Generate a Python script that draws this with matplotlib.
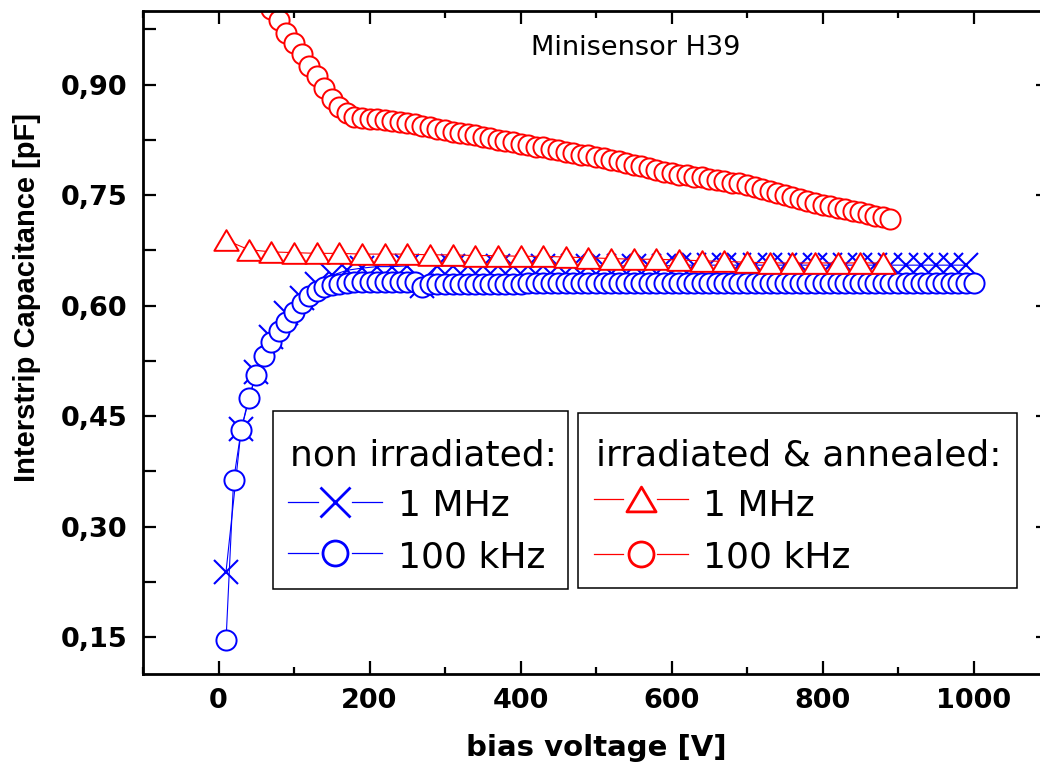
import numpy as np
import matplotlib
matplotlib.use("Agg")
import matplotlib.pyplot as plt
from matplotlib.ticker import MultipleLocator, FuncFormatter
from matplotlib.lines import Line2D
from matplotlib.patches import Rectangle
from matplotlib.path import Path

# ---------------------------------------------------------------- data
# non irradiated, 1 MHz (every 20 V)
v_nonirr_1m = np.arange(10, 1000, 20)
c_nonirr_1m = [0.239, 0.432, 0.510, 0.557, 0.590, 0.611, 0.629, 0.641, 0.648, 0.651,
               0.653, 0.653, 0.654, 0.627, 0.654, 0.654, 0.654, 0.654, 0.654, 0.654,
               0.654, 0.654, 0.654, 0.654, 0.654, 0.654, 0.654, 0.654, 0.654, 0.654,
               0.655, 0.655, 0.655, 0.655, 0.655, 0.655, 0.655, 0.655, 0.655, 0.655,
               0.655, 0.655, 0.655, 0.655, 0.655, 0.655, 0.655, 0.655, 0.655, 0.655]

# non irradiated, 100 kHz (every 10 V)
v_nonirr_100k = np.arange(10, 1001, 10)
c_nonirr_100k = [0.146, 0.363, 0.431, 0.475, 0.506, 0.532, 0.551, 0.566, 0.578, 0.592,
                 0.603, 0.613, 0.620, 0.625, 0.628, 0.630, 0.631, 0.632, 0.632, 0.632,
                 0.632, 0.632, 0.632, 0.632, 0.632, 0.632, 0.626, 0.629, 0.629, 0.629,
                 0.630, 0.630, 0.630, 0.630, 0.630, 0.630, 0.630, 0.630, 0.630, 0.630,
                 0.631, 0.631, 0.631, 0.631, 0.631, 0.631, 0.631, 0.631, 0.631, 0.631,
                 0.631, 0.631, 0.631, 0.631, 0.631, 0.631, 0.631, 0.631, 0.631, 0.631,
                 0.631, 0.631, 0.631, 0.631, 0.631, 0.631, 0.631, 0.631, 0.631, 0.631,
                 0.631, 0.631, 0.631, 0.631, 0.631, 0.631, 0.631, 0.631, 0.631, 0.631,
                 0.631, 0.631, 0.631, 0.631, 0.631, 0.631, 0.631, 0.631, 0.631, 0.631,
                 0.631, 0.631, 0.631, 0.631, 0.631, 0.631, 0.631, 0.631, 0.631, 0.631]

# irradiated & annealed, 1 MHz (every 30 V)
v_irr_1m = np.arange(10, 881, 30)
c_irr_1m = [0.689, 0.676, 0.673, 0.672, 0.671, 0.671, 0.670, 0.670, 0.670, 0.669,
            0.669, 0.668, 0.668, 0.667, 0.667, 0.666, 0.665, 0.664, 0.663, 0.663,
            0.662, 0.661, 0.660, 0.659, 0.658, 0.658, 0.658, 0.658, 0.658, 0.658]

# irradiated & annealed, 100 kHz (every 10 V)
v_irr_100k = np.arange(70, 891, 10)
c_irr_100k = [1.003, 0.988, 0.970, 0.957, 0.942, 0.926, 0.912, 0.895, 0.881, 0.870,
              0.861, 0.856, 0.855, 0.854, 0.853, 0.852, 0.851, 0.849, 0.848, 0.846,
              0.844, 0.842, 0.840, 0.838, 0.836, 0.834, 0.833, 0.831, 0.829, 0.827,
              0.825, 0.824, 0.822, 0.820, 0.818, 0.816, 0.815, 0.813, 0.811, 0.809,
              0.807, 0.805, 0.804, 0.802, 0.800, 0.798, 0.796, 0.794, 0.791, 0.789,
              0.787, 0.784, 0.782, 0.780, 0.778, 0.777, 0.775, 0.774, 0.772, 0.770,
              0.769, 0.767, 0.766, 0.764, 0.761, 0.758, 0.756, 0.753, 0.750, 0.747,
              0.745, 0.742, 0.740, 0.737, 0.735, 0.733, 0.731, 0.729, 0.727, 0.725,
              0.722, 0.720, 0.718]

x_label = "bias voltage [V]"
y_label = "Interstrip Capacitance [pF]"
sample_name = "Minisensor H39"
group_titles = ["non irradiated:", "irradiated & annealed:"]
freq_labels = ["1 MHz", "100 kHz"]

BLUE = "#0000ff"
RED = "#ff0000"

# ---------------------------------------------------------------- figure
W, H = 1040, 767
fig = plt.figure(figsize=(W / 100, H / 100), dpi=100)
fig.patch.set_facecolor("white")


def fx(px):
    return px / W


def fy(py):
    return 1 - py / H


ax = fig.add_axes([fx(143), fy(674), (1049 - 143) / W, (674 - 11) / H])
ax.set_xlim(-100, 1100)
ax.set_ylim(0.10, 1.00)

# equilateral-looking triangle marker centred on its bounding box
tri = Path([(-1, -0.85), (1, -0.85), (0, 0.85), (-1, -0.85)],
           [Path.MOVETO, Path.LINETO, Path.LINETO, Path.CLOSEPOLY])

ax.plot(v_nonirr_1m, c_nonirr_1m, color=BLUE, lw=0.8, marker="x", ms=17, mew=1.5)
ax.plot(v_nonirr_100k, c_nonirr_100k, color=BLUE, lw=0.8, marker="o", ms=14.5,
        mew=1.4, mfc="white", mec=BLUE)
ax.plot(v_irr_1m, c_irr_1m, color=RED, lw=0.8, marker=tri, ms=17.5, mew=1.4,
        mfc="white", mec=RED)
ax.plot(v_irr_100k, c_irr_100k, color=RED, lw=0.8, marker="o", ms=14.5,
        mew=1.4, mfc="white", mec=RED)

# ---------------------------------------------------------------- axes style
for s in ax.spines.values():
    s.set_linewidth(2.0)

ax.xaxis.set_major_locator(MultipleLocator(200))
ax.xaxis.set_minor_locator(MultipleLocator(100))
ax.yaxis.set_major_locator(MultipleLocator(0.15))
ax.yaxis.set_minor_locator(MultipleLocator(0.075))
ax.yaxis.set_major_formatter(FuncFormatter(lambda v, p: f"{v:.2f}".replace(".", ",")))

ax.tick_params(which="both", direction="in", top=True, right=True, width=1.6)
ax.tick_params(which="major", length=9.5)
ax.tick_params(axis="x", which="minor", length=5)
ax.tick_params(axis="y", which="minor", length=9.5, right=False)
ax.tick_params(axis="x", which="major", pad=10)
ax.tick_params(axis="y", which="major", pad=11)

for lab in ax.get_xticklabels() + ax.get_yticklabels():
    lab.set_fontfamily("DejaVu Sans")
    lab.set_fontweight("bold")
    lab.set_fontsize(19.5)

fig.text(fx(27), fy(298), y_label, rotation=90, ha="center", va="center",
         fontfamily="Liberation Sans", fontweight="bold", fontsize=21)
fig.text(fx(596), fy(756), x_label, ha="center", va="baseline",
         fontfamily="DejaVu Sans", fontweight="bold", fontsize=21)

ax.text(fx(531), fy(55), sample_name, transform=fig.transFigure, ha="left",
        va="baseline", fontfamily="DejaVu Sans", fontsize=19.5)

# ---------------------------------------------------------------- legends
def legend_box(x0, y0, x1, y1, title, title_x, entries, text_x, seg):
    fig.add_artist(Rectangle((fx(x0), fy(y1)), (x1 - x0) / W, (y1 - y0) / H,
                             transform=fig.transFigure, fill=True, fc="white",
                             ec="black", lw=1.1, zorder=5))
    fig.text(fx(title_x), fy(465), title, ha="left", va="baseline",
             fontfamily="DejaVu Sans", fontsize=26, zorder=6)
    for (label, color, marker, ms, ymid, ybase) in entries:
        (a0, a1), (b0, b1), mx = seg
        for xa, xb in ((a0, a1), (b0, b1)):
            fig.add_artist(Line2D([fx(xa), fx(xb)], [fy(ymid), fy(ymid)],
                                  transform=fig.transFigure, color=color,
                                  lw=0.9, zorder=6))
        fig.add_artist(Line2D([fx(mx)], [fy(ymid)], transform=fig.transFigure,
                              ls="none", marker=marker, ms=ms, mew=2.0,
                              mfc="white", mec=color, zorder=7))
        fig.text(fx(text_x), fy(ybase), label, ha="left", va="baseline",
                 fontfamily="DejaVu Sans", fontsize=26, zorder=6)


legend_box(273, 411, 568, 589, group_titles[0], 290,
           [(freq_labels[0], BLUE, "x", 21, 502, 516),
            (freq_labels[1], BLUE, "o", 18, 553, 567)],
           398, ((288, 318), (352, 382), 335))

legend_box(578, 413, 1017, 588, group_titles[1], 596,
           [(freq_labels[0], RED, tri, 21, 499, 516),
            (freq_labels[1], RED, "o", 18, 554, 567)],
           703, ((594, 623), (657, 688), 641))

fig.savefig("out.png", dpi=100, facecolor="white")
